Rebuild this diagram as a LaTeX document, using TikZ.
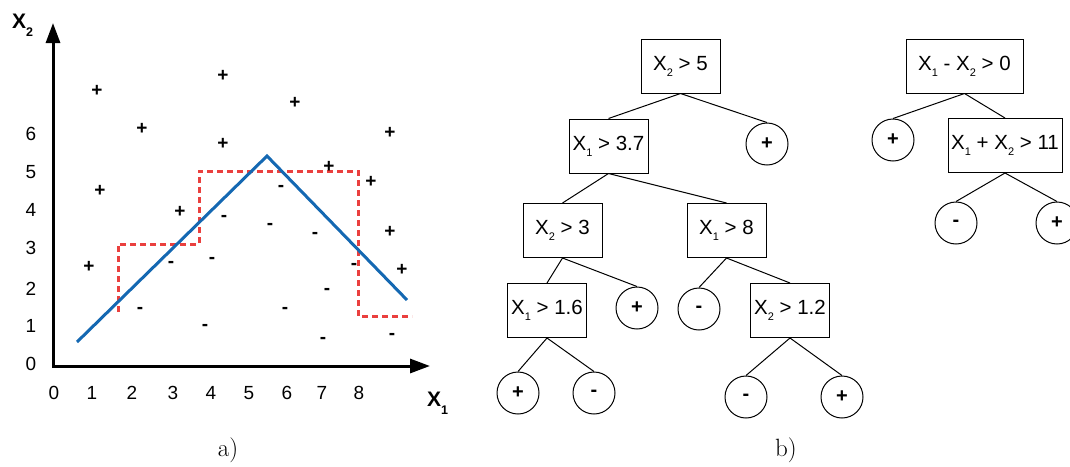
\documentclass[tikz,border=0pt]{standalone}
\usepackage{fontspec}
\newfontfamily\arial{Liberation Sans}
\usetikzlibrary{arrows.meta}
\definecolor{myblue}{RGB}{20,104,178}
\definecolor{myred}{RGB}{234,64,62}
\newcommand\sbx[1]{\raisebox{-6pt}{\fontsize{11}{11}\selectfont #1}}
\newcommand\sbb[1]{\raisebox{-8.5pt}{\fontsize{12.5}{12.5}\selectfont\bfseries #1}}
\begin{document}
\begin{tikzpicture}[x=1pt,y=-1pt,
 box/.style={draw, line width=1pt, minimum width=79pt, minimum height=54pt, inner sep=1pt, font=\arial\fontsize{20.5}{20.5}\selectfont},
 leaf/.style={draw, circle, line width=1pt, minimum size=42pt, inner sep=0pt, font=\arial\bfseries\fontsize{20}{20}\selectfont},
 edge/.style={line width=1pt},
 ticklab/.style={font=\arial\fontsize{19}{19}\selectfont, inner sep=0pt},
 pt/.style={font=\arial\bfseries\fontsize{19}{19}\selectfont, inner sep=0pt},
 axislab/.style={font=\arial\bfseries\fontsize{21}{21}\selectfont, inner sep=0pt},
 axis/.style={line width=3pt, {Triangle[length=20pt,width=14pt]}-{Triangle[length=20pt,width=14pt]}},
 blueline/.style={line width=3pt, color=myblue},
 redline/.style={line width=3pt, color=myred, dash pattern=on 6pt off 4pt},
 capt/.style={font=\fontsize{25}{25}\selectfont, inner sep=0pt}
]
\useasboundingbox (0,0) rectangle (1070,466);
% ---------- plot a)
\coordinate (ytip) at (53,23);
\coordinate (xtip) at (430,366);
\draw[axis] (ytip) |- (xtip);
\node[axislab, anchor=base west] (x2lab) at (12,28) {X\sbb{2}};
\node[axislab, anchor=base west] (x1lab) at (427,406) {X\sbb{1}};
\foreach \t/\y in {0/364,1/326,2/289,3/248,4/210,5/172,6/134}
  \node[ticklab] (yt\t) at (31,\y) {\t};
\foreach \t/\x in {0/54,1/92,2/132,3/173,4/211,5/249,6/287,7/322,8/359}
  \node[ticklab] (xt\t) at (\x,393) {\t};
% decision boundaries
\coordinate (r1) at (118,312);
\coordinate (r2) at (118,244);
\coordinate (r3) at (199,244);
\coordinate (r4) at (199,171);
\coordinate (r5) at (358,171);
\coordinate (r6) at (358,316);
\coordinate (r7) at (412,316);
\draw[redline] (r1) -- (r2) -- (r3) -- (r4) -- (r5) -- (r6) -- (r7);
\coordinate (b1) at (77,342);
\coordinate (b2) at (267,156);
\coordinate (b3) at (407,300);
\draw[blueline] (b1) -- (b2) -- (b3);
% points
\foreach \x/\y [count=\i] in {97/91,223/76,142/129,295/103,223/144,390/133,329/167,371/182,100/191,180/212,390/232,89/267,402/270}
  \node[pt] (pp\i) at (\x,\y) {+};
\foreach \x/\y [count=\i] in {281/188,224/218,270/226,315/235,212/260,171/264,354/266,327/291,140/310,285/310,205/327,323/340,392/336}
  \node[pt] (pm\i) at (\x,\y) {-};
\node[capt] (capa) at (228,450) {a)};
% ---------- tree b)
\node[box] (n1) at (680.5,66) {X\sbx{2} > 5};
\node[box] (n2) at (608.5,146) {X\sbx{1} > 3.7};
\node[leaf] (l1) at (767,144) {+};
\node[box] (n3) at (562.5,230.5) {X\sbx{2} > 3};
\node[box] (n4) at (726.5,230.5) {X\sbx{1} > 8};
\node[box] (n5) at (547,310.5) {X\sbx{1} > 1.6};
\node[leaf] (l2) at (637,308) {+};
\node[leaf] (l3) at (699,309) {-};
\node[box] (n6) at (790,310.5) {X\sbx{2} > 1.2};
\node[leaf] (l4) at (518,393) {+};
\node[leaf] (l5) at (594,393) {-};
\node[leaf] (l6) at (746,397) {-};
\node[leaf] (l7) at (842,397) {+};
\draw[edge] (n1.south) -- (n2.north);
\draw[edge] (n1.south) -- (l1.north);
\draw[edge] (n2.south) -- (n3.north);
\draw[edge] (n2.south) -- (n4.north);
\draw[edge] (n3.south) -- (n5.north);
\draw[edge] (n3.south) -- (l2.north);
\draw[edge] (n4.south) -- (l3.north);
\draw[edge] (n4.south) -- (n6.north);
\draw[edge] (n5.south) -- (l4.north);
\draw[edge] (n5.south) -- (l5.north);
\draw[edge] (n6.south) -- (l6.north);
\draw[edge] (n6.south) -- (l7.north);
% second tree
\node[box, minimum width=117pt] (m1) at (964.5,66) {X\sbx{1} - X\sbx{2} > 0};
\node[leaf] (k1) at (893,140) {+};
\node[box, minimum width=114pt] (m2) at (1005,145.5) {X\sbx{1} + X\sbx{2} > 11};
\node[leaf] (k2) at (956,223) {-};
\node[leaf] (k3) at (1057,223) {+};
\draw[edge] (m1.south) -- (k1.north);
\draw[edge] (m1.south) -- (m2.north);
\draw[edge] (m2.south) -- (k2.north);
\draw[edge] (m2.south) -- (k3.north);
\node[capt] (capb) at (786,450) {b)};
\end{tikzpicture}
\end{document}
